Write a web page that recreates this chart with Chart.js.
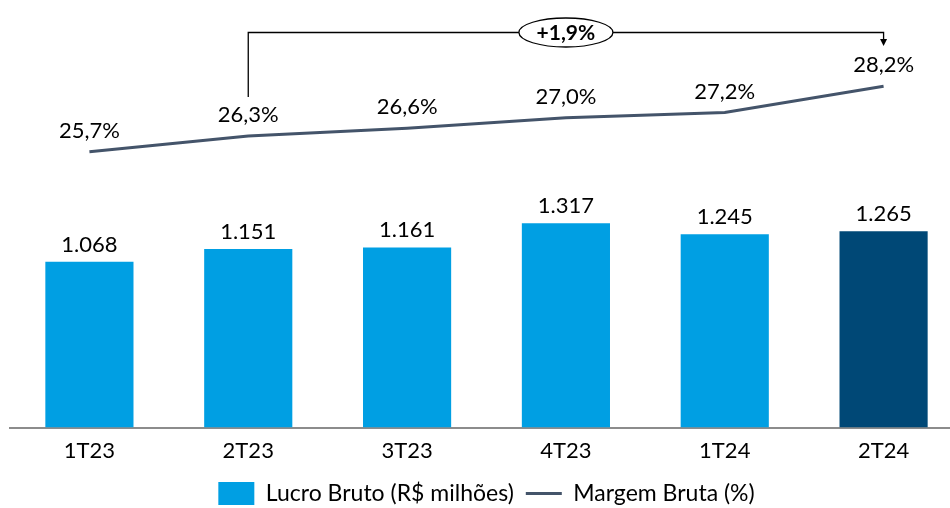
<!DOCTYPE html>
<html>
<head>
<meta charset="utf-8">
<script src="https://cdn.jsdelivr.net/npm/chart.js@4.4.1/dist/chart.umd.min.js"></script>
<style>
html, body { margin: 0; padding: 0; background: #fff; overflow: hidden; }
#caixa { width: 963px; height: 515px; position: relative; }
</style>
</head>
<body>
<div id="caixa"><canvas id="resultado"></canvas></div>
<script>
// dados
const trimestres = ['1T23', '2T23', '3T23', '4T23', '1T24', '2T24']
const lucroBruto = [1068, 1151, 1161, 1317, 1245, 1265]
const margemBruta = [25.7, 26.3, 26.6, 27.0, 27.2, 28.2]
const variacaoMargem = '+1,9%'

const azul = '#009FE3'
const azulEscuro = '#004876'
const corLinha = '#44546A'
const corBarras = trimestres.map((t, i) => i === trimestres.length - 1 ? azulEscuro : azul)

const fonte = 'Lato'

function milhar(v) {
  return String(v).replace(/\B(?=(\d{3})+(?!\d))/g, '.')
}
function pct(v) {
  return v.toFixed(1).replace('.', ',') + '%'
}

const rotulos = {
  id: 'rotulos',
  afterDatasetsDraw(chart) {
    const ctx = chart.ctx
    ctx.save()
    ctx.fillStyle = '#000'
    ctx.textAlign = 'center'
    ctx.textBaseline = 'middle'
    ctx.font = '22px ' + fonte
    chart.getDatasetMeta(0).data.forEach((barra, i) => {
      ctx.fillText(milhar(lucroBruto[i]), barra.x, barra.y - 17)
    })
    const pontos = chart.getDatasetMeta(1).data
    pontos.forEach((p, i) => {
      ctx.fillText(pct(margemBruta[i]), p.x, p.y - 21)
    })

    // colchete da variacao 2T23 -> 2T24
    const a = pontos[1], b = pontos[pontos.length - 1]
    const topo = 32.5
    ctx.strokeStyle = '#000'
    ctx.lineWidth = 1.3
    ctx.beginPath()
    ctx.moveTo(a.x, a.y - 39)
    ctx.lineTo(a.x, topo)
    ctx.lineTo(b.x, topo)
    ctx.lineTo(b.x, 40)
    ctx.stroke()
    ctx.beginPath()
    ctx.moveTo(b.x - 3.5, 39)
    ctx.lineTo(b.x + 3.5, 39)
    ctx.lineTo(b.x, 46)
    ctx.closePath()
    ctx.fillStyle = '#000'
    ctx.fill()

    const cx = (a.x + b.x) / 2
    ctx.beginPath()
    ctx.ellipse(cx, topo, 47, 14.5, 0, 0, Math.PI * 2)
    ctx.fillStyle = '#fff'
    ctx.fill()
    ctx.stroke()
    ctx.fillStyle = '#000'
    ctx.font = 'bold 21px ' + fonte
    ctx.fillText(variacaoMargem, cx, topo + 1)
    ctx.restore()
  }
}

const data = {
  labels: trimestres,
  datasets: [
    {
      type: 'bar',
      label: 'Lucro Bruto (R$ milhões)',
      data: lucroBruto,
      backgroundColor: corBarras,
      borderWidth: 0,
      pointStyle: 'rect',
      categoryPercentage: 1,
      barPercentage: 0.555,
      yAxisID: 'y'
    },
    {
      type: 'line',
      label: 'Margem Bruta (%)',
      data: margemBruta,
      borderColor: corLinha,
      backgroundColor: corLinha,
      borderWidth: 3,
      pointRadius: 0,
      pointStyle: 'line',
      tension: 0,
      yAxisID: 'y2'
    }
  ]
}

const config = {
  data: data,
  options: {
    responsive: true,
    maintainAspectRatio: false,
    animation: false,
    layout: { padding: { left: 10, right: 0, top: 0, bottom: 0 } },
    plugins: {
      legend: {
        position: 'bottom',
        labels: {
          usePointStyle: true,
          pointStyleWidth: 36,
          boxHeight: 23,
          padding: 12,
          color: '#000',
          font: { family: fonte, size: 23 }
        }
      },
      tooltip: { enabled: false }
    },
    scales: {
      x: {
        grid: { display: false, drawTicks: false },
        border: { display: true, color: '#8C8C8C', width: 2 },
        ticks: { color: '#000', padding: 10, font: { family: fonte, size: 22 } },
        afterFit(scale) { scale.height -= 4 }
      },
      y: { display: false, min: 0, max: 2755 },
      y2: { display: false, min: 15.18, max: 31.49 }
    }
  },
  plugins: [rotulos]
}

let myChart = new Chart(document.getElementById('resultado'), config)
</script>
</body>
</html>
